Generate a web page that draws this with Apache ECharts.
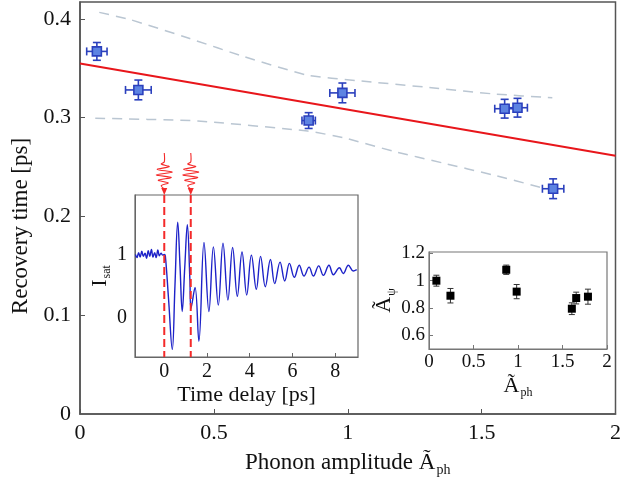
<!doctype html>
<html lang="en">
<head>
<meta charset="UTF-8">
<script src="https://cdn.jsdelivr.net/npm/echarts@6/dist/echarts.min.js"></script>
<title>Recovery time vs phonon amplitude</title>
<style>html,body{margin:0;padding:0;background:#fff}</style>
</head>
<body>
<div id="chart" style="width:624px;height:486px;"></div>
<script>
// main panel: recovery time vs phonon amplitude
var ampX   = [0.063, 0.218, 0.854, 0.980, 1.586, 1.634, 1.767];
var recT   = [0.367, 0.328, 0.297, 0.325, 0.309, 0.310, 0.228];
var ampErr = [0.038, 0.048, 0.025, 0.047, 0.037, 0.037, 0.040];
var recErr = [0.009, 0.010, 0.008, 0.010, 0.0095, 0.0095, 0.010];

// linear fit and its confidence band
var fitX = [0, 2];
var fitY = [0.3547, 0.2613];
var upperX = [0.072, 0.190, 0.410, 0.616, 0.852, 1.028, 1.322, 1.543, 1.764];
var upperY = [0.4065, 0.399, 0.380, 0.3614, 0.3427, 0.3376, 0.330, 0.324, 0.320];
var lowerX = [0.057, 0.44, 0.85, 0.986, 1.171, 1.356, 1.540, 1.725];
var lowerY = [0.2994, 0.2966, 0.2864, 0.2795, 0.2659, 0.254, 0.2421, 0.2291];

// inset 1: I_sat vs time delay
var delayT = [-1.35, -1.28, -1.2, -1.13, -1.05, -0.98, -0.9, -0.83, -0.75, -0.68, -0.6, -0.53, -0.45, -0.38, -0.3, -0.23, -0.15, -0.08, 0.0, 0.05,
  0.2, 0.375, 0.5, 0.63, 0.74, 0.84, 0.96, 1.08, 1.2, 1.25, 1.44, 1.62, 1.86, 2.09, 2.30, 2.53, 2.75, 2.98, 3.20, 3.42, 3.64, 3.86,
  4.08, 4.31, 4.51, 4.73, 4.97, 5.17, 5.42, 5.64, 5.86, 6.09, 6.32, 6.54, 6.78, 6.98, 7.23, 7.45, 7.71, 7.92, 8.2, 8.38, 8.62, 8.85, 9.01];
var isat = [1.0, 0.95, 1.03, 0.96, 1.05, 0.97, 1.02, 0.94, 1.06, 0.97, 1.08, 0.96, 1.03, 0.95, 1.07, 0.98, 1.02, 0.99, 1.0, 0.98,
  0.3, -0.5, 0.5, 1.51, 0.8, 0.1, 0.8, 1.47, 0.6, 0.15, 0.48, -0.37, 1.19, 0.1, 1.12, 0.2, 1.18, 0.28, 1.11, 0.34, 1.04, 0.36,
  0.99, 0.45, 0.97, 0.49, 0.92, 0.54, 0.88, 0.58, 0.86, 0.64, 0.83, 0.66, 0.80, 0.66, 0.82, 0.67, 0.83, 0.68, 0.79, 0.70, 0.83, 0.74, 0.76];
var pumpT = [0, 1.24];

// inset 2: A_psi vs phonon amplitude
var ampX2   = [0.083, 0.241, 0.868, 0.985, 1.605, 1.654, 1.786];
var apsi    = [1.0, 0.89, 1.08, 0.92, 0.795, 0.873, 0.883];
var apsiErr = [0.04, 0.053, 0.034, 0.052, 0.043, 0.043, 0.055];

var serif = 'Liberation Serif';
var ink = '#111';

function pairs(xs, ys) {
  return xs.map(function (x, i) { return [x, ys[i]]; });
}

function errorBars(color, lw, cap) {
  return function (params, api) {
    var x = api.value(0), y = api.value(1), ex = api.value(2), ey = api.value(3);
    var st = { stroke: color, lineWidth: lw };
    var kids = [];
    var t = api.coord([x, y + ey]), b = api.coord([x, y - ey]);
    kids.push({ type: 'line', shape: { x1: t[0], y1: t[1], x2: b[0], y2: b[1] }, style: st });
    kids.push({ type: 'line', shape: { x1: t[0] - cap, y1: t[1], x2: t[0] + cap, y2: t[1] }, style: st });
    kids.push({ type: 'line', shape: { x1: b[0] - cap, y1: b[1], x2: b[0] + cap, y2: b[1] }, style: st });
    if (ex > 0) {
      var l = api.coord([x - ex, y]), r = api.coord([x + ex, y]);
      kids.push({ type: 'line', shape: { x1: l[0], y1: l[1], x2: r[0], y2: r[1] }, style: st });
      kids.push({ type: 'line', shape: { x1: l[0], y1: l[1] - cap, x2: l[0], y2: l[1] + cap }, style: st });
      kids.push({ type: 'line', shape: { x1: r[0], y1: r[1] - cap, x2: r[0], y2: r[1] + cap }, style: st });
    }
    return { type: 'group', children: kids };
  };
}

// pump pulse: wavy arrow above the inset plus dashed marker line
function pumpPulse(params, api) {
  var x = api.coord([api.value(0), 0])[0];
  var top = params.coordSys.y, bottom = top + params.coordSys.height;
  var amp = [3, 5, 7, 8, 8, 7, 6, 4, 3];
  var pts = [[x, top - 42], [x, top - 33]];
  for (var i = 0; i < amp.length; i++) {
    pts.push([x + (i % 2 ? amp[i] : -amp[i]), top - 31 + i * 2.7]);
  }
  pts.push([x, top - 6]);
  return {
    type: 'group',
    children: [
      { type: 'polyline', shape: { points: pts, smooth: 0.3 }, style: { stroke: '#f42a2a', lineWidth: 1.1, fill: null } },
      { type: 'polygon', shape: { points: [[x - 3, top - 7], [x + 3, top - 7], [x, top]] }, style: { fill: '#f42a2a' } },
      { type: 'line', shape: { x1: x, y1: top, x2: x, y2: bottom }, style: { stroke: '#f42a2a', lineWidth: 2, lineDash: [8, 4] } }
    ]
  };
}

var chart = echarts.init(document.getElementById('chart'));

var option = {
  animation: false,
  backgroundColor: '#fff',
  textStyle: { fontFamily: serif, color: ink },
  grid: [
    { left: 80, top: 2, width: 541, height: 412, show: true, borderColor: '#555', borderWidth: 1.5, backgroundColor: 'transparent' },
    { left: 135, top: 195, width: 223, height: 162, show: true, borderColor: '#666', borderWidth: 1.2, backgroundColor: '#fff' },
    { left: 429, top: 252, width: 178, height: 97, show: true, borderColor: '#777', borderWidth: 1.2, backgroundColor: '#fff' }
  ],
  xAxis: [
    {
      gridIndex: 0, type: 'value', min: 0, max: 2, interval: 0.5,
      name: '{n|Phonon amplitude Ã}{s|ph}', nameLocation: 'middle', nameGap: 35,
      nameTextStyle: { rich: { n: { fontFamily: serif, fontSize: 23, color: ink }, s: { fontFamily: serif, fontSize: 14, color: ink, padding: [14, 0, 0, 1] } } },
      axisLine: { onZero: false, lineStyle: { color: '#555', width: 1.5 } },
      axisTick: { inside: true, length: 5, lineStyle: { color: '#555' } },
      axisLabel: { fontSize: 22, color: ink, margin: 8, fontFamily: serif },
      splitLine: { show: false }
    },
    {
      gridIndex: 1, type: 'value', min: -1.37, max: 9.07,
      name: 'Time delay [ps]', nameLocation: 'middle', nameGap: 27,
      nameTextStyle: { fontFamily: serif, fontSize: 22, color: ink },
      axisLine: { onZero: false, lineStyle: { color: '#666' } },
      axisTick: { inside: true, length: 4, customValues: [0, 2, 4, 6, 8], lineStyle: { color: '#666' } },
      axisLabel: { fontSize: 20, color: ink, margin: 5, fontFamily: serif, customValues: [0, 2, 4, 6, 8] },
      splitLine: { show: false }
    },
    {
      gridIndex: 2, type: 'value', min: 0, max: 2, interval: 0.5,
      name: '{n|Ã}{s|ph}', nameLocation: 'middle', nameGap: 24,
      nameTextStyle: { rich: { n: { fontFamily: serif, fontSize: 22, color: ink }, s: { fontFamily: serif, fontSize: 12, color: ink, padding: [14, 0, 0, 1] } } },
      axisLine: { onZero: false, lineStyle: { color: '#777' } },
      axisTick: { inside: true, length: 4, lineStyle: { color: '#777' } },
      axisLabel: { fontSize: 19, color: ink, margin: 4, fontFamily: serif },
      splitLine: { show: false }
    }
  ],
  yAxis: [
    {
      gridIndex: 0, type: 'value', min: 0, max: 0.417,
      name: 'Recovery time [ps]', nameLocation: 'middle', nameGap: 44, nameRotate: 90,
      nameTextStyle: { fontFamily: serif, fontSize: 23, color: ink, padding: [0, 36, 0, 0] },
      axisLine: { onZero: false, lineStyle: { color: '#555', width: 1.5 } },
      axisTick: { inside: true, length: 5, customValues: [0.1, 0.2, 0.3, 0.4], lineStyle: { color: '#555' } },
      axisLabel: { fontSize: 22, color: ink, margin: 9, fontFamily: serif, customValues: [0, 0.1, 0.2, 0.3, 0.4] },
      splitLine: { show: false }
    },
    {
      gridIndex: 1, type: 'value', min: -0.62, max: 1.94,
      name: '{n|I}{s|sat}', nameLocation: 'middle', nameGap: 12, nameRotate: 90,
      nameTextStyle: { rich: { n: { fontFamily: serif, fontSize: 22, color: ink }, s: { fontFamily: serif, fontSize: 12, color: ink, padding: [14, 0, 0, 1] } } },
      axisLine: { onZero: false, lineStyle: { color: '#666' } },
      axisTick: { show: false },
      axisLabel: { fontSize: 20, color: ink, margin: 8, fontFamily: serif, customValues: [0, 1] },
      splitLine: { show: false }
    },
    {
      gridIndex: 2, type: 'value', min: 0.5, max: 1.21,
      name: '{n|Ã}{s|ψ}', nameLocation: 'middle', nameGap: 28, nameRotate: 90,
      nameTextStyle: { rich: { n: { fontFamily: serif, fontSize: 22, color: ink }, s: { fontFamily: serif, fontSize: 12, color: ink, padding: [14, 0, 0, 1] } } },
      axisLine: { onZero: false, lineStyle: { color: '#777' } },
      axisTick: { inside: true, length: 4, customValues: [0.6, 0.8, 1, 1.2], lineStyle: { color: '#777' } },
      axisLabel: { fontSize: 19, color: ink, margin: 4, fontFamily: serif, customValues: [0.6, 0.8, 1, 1.2] },
      splitLine: { show: false }
    }
  ],
  series: [
    {
      type: 'line', xAxisIndex: 0, yAxisIndex: 0, data: pairs(upperX, upperY), smooth: 0.15,
      showSymbol: false, lineStyle: { color: '#bac6d2', width: 1.5, type: [10, 7] }
    },
    {
      type: 'line', xAxisIndex: 0, yAxisIndex: 0, data: pairs(lowerX, lowerY), smooth: 0.15,
      showSymbol: false, lineStyle: { color: '#bac6d2', width: 1.5, type: [10, 7] }
    },
    {
      type: 'line', xAxisIndex: 0, yAxisIndex: 0, data: pairs(fitX, fitY),
      showSymbol: false, lineStyle: { color: '#e8161b', width: 2 }
    },
    {
      type: 'custom', xAxisIndex: 0, yAxisIndex: 0,
      data: ampX.map(function (x, i) { return [x, recT[i], ampErr[i], recErr[i]]; }),
      renderItem: errorBars('#2b40bd', 1.6, 4), z: 3
    },
    {
      type: 'scatter', xAxisIndex: 0, yAxisIndex: 0, data: pairs(ampX, recT), symbol: 'rect', symbolSize: 9,
      itemStyle: { color: '#5d83e2', borderColor: '#2b40bd', borderWidth: 1.6, opacity: 1 }, z: 4
    },
    {
      type: 'line', xAxisIndex: 1, yAxisIndex: 1, data: pairs(delayT, isat), smooth: 0.4,
      showSymbol: false, lineStyle: { color: '#1d22c8', width: 1.4 }
    },
    {
      type: 'custom', xAxisIndex: 1, yAxisIndex: 1, data: pumpT.map(function (t) { return [t, 0]; }),
      renderItem: pumpPulse, z: 5
    },
    {
      type: 'custom', xAxisIndex: 2, yAxisIndex: 2,
      data: ampX2.map(function (x, i) { return [x, apsi[i], 0, apsiErr[i]]; }),
      renderItem: errorBars('#333', 1, 3), z: 3
    },
    {
      type: 'scatter', xAxisIndex: 2, yAxisIndex: 2, data: pairs(ampX2, apsi), symbol: 'rect', symbolSize: 8,
      itemStyle: { color: '#000', opacity: 1 }, z: 4
    }
  ]
};

chart.setOption(option);
</script>
</body>
</html>
